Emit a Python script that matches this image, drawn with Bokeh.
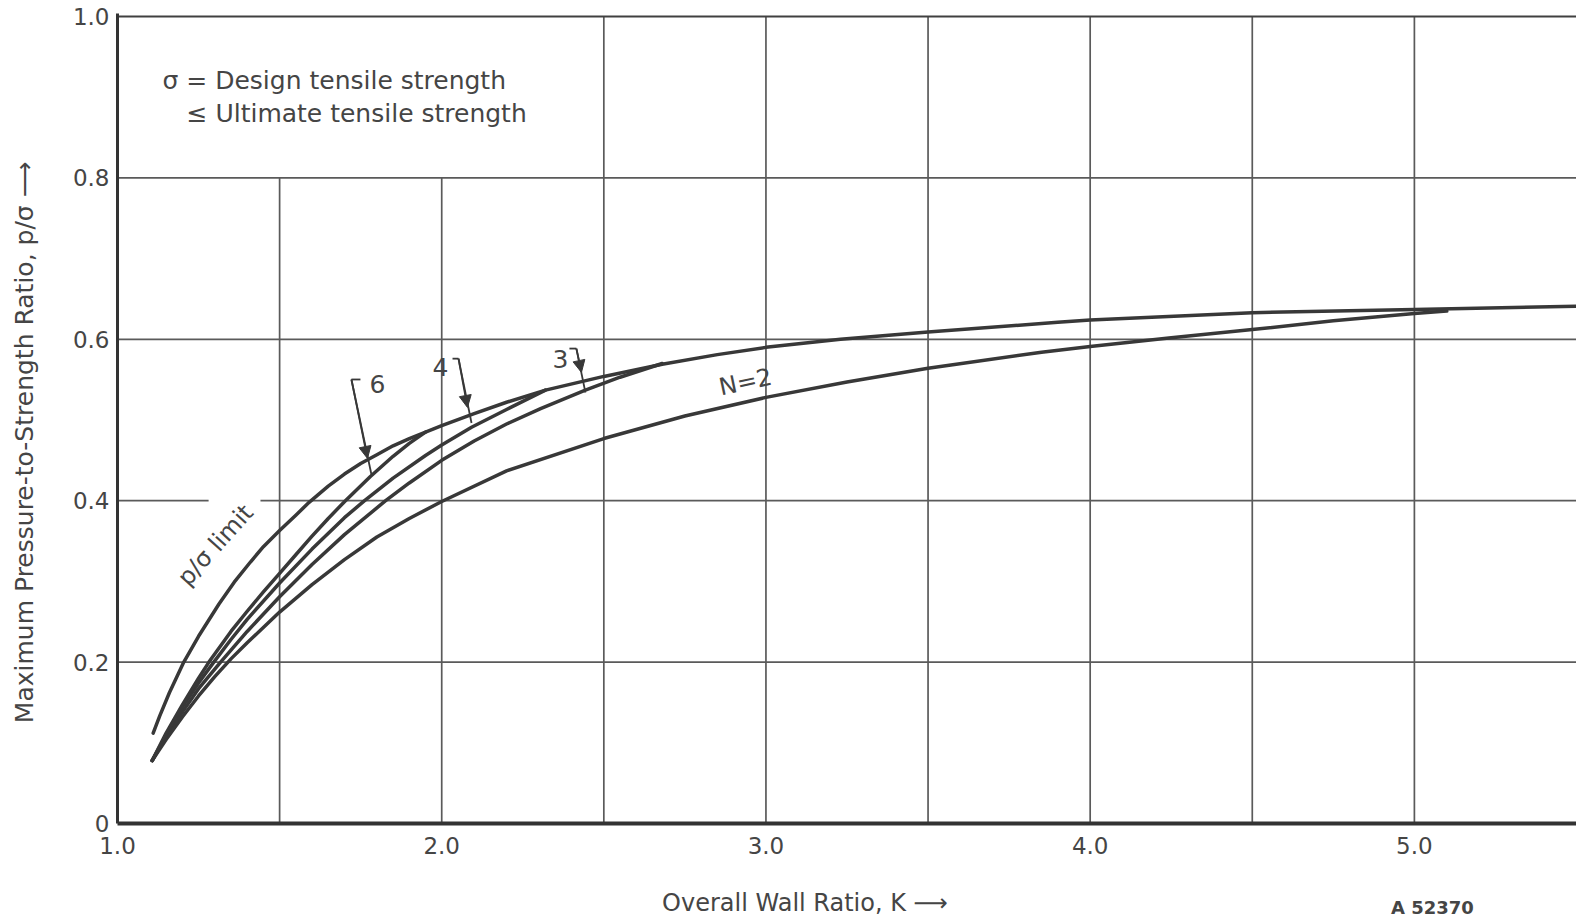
from bokeh.plotting import figure
from bokeh.models import Range1d, FixedTicker, Label, Arrow, NormalHead, LinearAxis
from bokeh.embed import file_html
from bokeh.resources import INLINE
import math

# ---------------- data ----------------
limit_k = [1.11, 1.13, 1.16, 1.2045, 1.25, 1.313, 1.36, 1.41, 1.45, 1.5, 1.55, 1.591,
           1.65, 1.7, 1.75, 1.8, 1.85, 1.9, 1.95, 2.0, 2.1, 2.2, 2.32, 2.5, 2.68, 2.85,
           3.0, 3.23, 3.5, 3.9, 4.0, 4.5, 5.0, 5.5]
limit_p = [0.112, 0.133, 0.162, 0.200, 0.232, 0.272, 0.299, 0.324, 0.343, 0.363, 0.382, 0.398,
           0.418, 0.433, 0.446, 0.457, 0.468, 0.477, 0.485, 0.493, 0.508, 0.522, 0.537, 0.554,
           0.569, 0.581, 0.590, 0.600, 0.609, 0.621, 0.624, 0.633, 0.637, 0.641]

n6_k = [1.107, 1.15, 1.2, 1.25, 1.282, 1.35, 1.4, 1.45, 1.5, 1.55, 1.6, 1.65, 1.703,
        1.78, 1.85, 1.9, 1.95]
n6_p = [0.078, 0.112, 0.147, 0.180, 0.200, 0.238, 0.263, 0.287, 0.310, 0.333, 0.356,
        0.378, 0.400, 0.430, 0.455, 0.471, 0.485]

n4_k = [1.107, 1.15, 1.2, 1.25, 1.297, 1.35, 1.4, 1.5, 1.6, 1.7, 1.762, 1.85, 1.95,
        2.0, 2.092, 2.2, 2.32]
n4_p = [0.078, 0.110, 0.144, 0.174, 0.200, 0.228, 0.253, 0.298, 0.340, 0.379, 0.400,
        0.428, 0.456, 0.469, 0.491, 0.513, 0.537]

n3_k = [1.107, 1.15, 1.2, 1.25, 1.318, 1.4, 1.5, 1.6, 1.7, 1.827, 1.9, 2.0, 2.1, 2.2,
        2.305, 2.443, 2.55, 2.68]
n3_p = [0.078, 0.108, 0.138, 0.167, 0.200, 0.238, 0.281, 0.321, 0.358, 0.400, 0.422,
        0.450, 0.474, 0.495, 0.514, 0.537, 0.553, 0.570]

n2_k = [1.107, 1.15, 1.2, 1.25, 1.3, 1.35, 1.4, 1.5, 1.6, 1.7, 1.8, 1.9, 2.0, 2.2, 2.5,
        2.75, 3.0, 3.25, 3.5, 3.85, 4.0, 4.25, 4.5, 4.75, 5.0, 5.1]
n2_p = [0.078, 0.104, 0.132, 0.158, 0.182, 0.204, 0.224, 0.262, 0.296, 0.327, 0.355,
        0.378, 0.399, 0.437, 0.477, 0.505, 0.528, 0.547, 0.564, 0.584, 0.591, 0.602,
        0.612, 0.623, 0.632, 0.635]

x_ticks = [1, 2, 3, 4, 5]
x_tick_labels = ["1.0", "2.0", "3.0", "4.0", "5.0"]
y_ticks = [0, 0.2, 0.4, 0.6, 0.8, 1.0]
y_tick_labels = ["0", "0.2", "0.4", "0.6", "0.8", "1.0"]
grid_k = [1.5, 2.0, 2.5, 3.0, 3.5, 4.0, 4.5, 5.0]
grid_p = [0.2, 0.4, 0.6, 0.8]

x_title = "Overall Wall Ratio, K ⟶"
y_title = "Maximum Pressure-to-Strength Ratio, p/σ ⟶"
note_lines = ["σ = Design tensile strength", "≤ Ultimate tensile strength"]
drawing_code = "A 52370"

# ---------------- layout / style ----------------
X0, X1 = 1.0, 5.5
Y0, Y1 = 0.0, 1.0037
NOTE_BOX_K, NOTE_BOX_P = 2.5, 0.8       # note area: no grid above 0.8 left of 2.5
LABEL_GAP = (0.4, 1.281, 1.441)          # gridline gap behind "p/σ limit"
CODE_K = 5.0555                          # horizontal position of drawing code
NBSP = "\u00a0"
INK = "#383838"
GRID = "#5a5a5a"
TXT = "#454545"
FONT = "DejaVu Sans"

p = figure(width=1576, height=923, x_range=Range1d(X0, X1), y_range=Range1d(Y0, Y1),
           output_backend="svg", toolbar_location=None,
           min_border_left=117, min_border_right=0, min_border_top=13, min_border_bottom=100)
p.outline_line_color = None
p.xgrid.visible = False
p.ygrid.visible = False
p.background_fill_color = "white"
p.border_fill_color = "white"

for ax, ticks, labels, lw, so in ((p.xaxis[0], x_ticks, x_tick_labels, 4, 13),
                                  (p.yaxis[0], y_ticks, y_tick_labels, 3, 8)):
    ax.ticker = FixedTicker(ticks=ticks)
    ax.major_label_overrides = {t: l for t, l in zip(ticks, labels)}
    ax.axis_line_width = lw
    ax.axis_line_color = "#333333"
    ax.major_tick_line_color = None
    ax.minor_tick_line_color = None
    ax.major_tick_out = 0
    ax.minor_tick_out = 0
    ax.major_tick_in = 0
    ax.minor_tick_in = 0
    ax.major_label_text_font = FONT
    ax.major_label_text_font_size = "23px"
    ax.major_label_text_color = TXT
    ax.major_label_standoff = so
    ax.axis_label_text_font = FONT
    ax.axis_label_text_font_style = "normal"
    ax.axis_label_text_color = TXT

p.xaxis[0].axis_label = x_title + NBSP * 11
p.xaxis[0].axis_label_text_font_size = "24px"
p.xaxis[0].axis_label_standoff = 32
p.yaxis[0].axis_label = y_title + NBSP * 6
p.yaxis[0].axis_label_text_font_size = "25px"
p.yaxis[0].axis_label_standoff = 31

code_axis = LinearAxis(ticker=FixedTicker(ticks=[CODE_K]),
                       major_label_overrides={CODE_K: drawing_code},
                       axis_line_color=None, major_tick_line_color=None,
                       minor_tick_line_color=None, major_tick_out=0, minor_tick_out=0,
                       major_tick_in=0, minor_tick_in=0, major_label_standoff=-23,
                       major_label_text_font=FONT, major_label_text_font_size="18px",
                       major_label_text_font_style="bold", major_label_text_color=TXT)
p.add_layout(code_axis, "below")

# grid lines
vx0, vy0, vx1, vy1 = [], [], [], []
for k in grid_k:
    vx0.append(k); vx1.append(k); vy0.append(0.0)
    vy1.append(NOTE_BOX_P if k < NOTE_BOX_K else 1.0)
for g in grid_p:
    if g == LABEL_GAP[0]:
        vx0 += [1.0, LABEL_GAP[2]]; vx1 += [LABEL_GAP[1], 5.6]
        vy0 += [g, g]; vy1 += [g, g]
    else:
        vx0.append(1.0); vx1.append(5.6); vy0.append(g); vy1.append(g)
p.segment(vx0, vy0, vx1, vy1, line_color=GRID, line_width=1.7)
# top border
p.segment([1.0], [1.0], [5.6], [1.0], line_color="#404040", line_width=2.2)

# curves
for ks, ps in ((n2_k, n2_p), (n3_k, n3_p), (n4_k, n4_p), (n6_k, n6_p), (limit_k, limit_p)):
    p.line(ks, ps, line_color=INK, line_width=3.5, line_cap="round", line_join="round")

def lab(x, y, text, size="22px", angle=0.0, align="center", baseline="middle"):
    p.add_layout(Label(x=x, y=y, text=text, text_font=FONT, text_font_size=size,
                       text_color=TXT, angle=angle, text_align=align,
                       text_baseline=baseline))

# note
lab(1.1388, 0.921, note_lines[0], size="25px", align="left", baseline="alphabetic")
lab(1.2128, 0.880, note_lines[1], size="25px", align="left", baseline="alphabetic")

# curve labels
lab(1.302, 0.345, "p/σ limit", size="24px", angle=math.radians(48))
lab(2.937, 0.547, "N=2", size="24px", angle=math.radians(12))
lab(1.802, 0.545, "6", size="25px")
lab(1.996, 0.566, "4", size="25px")
lab(2.366, 0.576, "3", size="25px")

# leaders: (tick start, top of line, arrow tip, line end)
leaders = [
    ((1.7493, 0.5502), (1.7215, 0.5502), (1.771, 0.4524), (1.7832, 0.4325)),
    ((2.0333, 0.5760), (2.0518, 0.5760), (2.0794, 0.5156), (2.0919, 0.4963)),
    ((2.3939, 0.5885), (2.4154, 0.5885), (2.431, 0.559), (2.4432, 0.5340)),
]
for a, b, tip, end in leaders:
    p.segment([a[0], b[0]], [a[1], b[1]], [b[0], end[0]], [b[1], end[1]],
              line_color=INK, line_width=1.8)
    p.add_layout(Arrow(end=NormalHead(size=12, fill_color=INK, line_color=INK, line_width=1),
                       x_start=b[0], y_start=b[1], x_end=tip[0], y_end=tip[1],
                       line_color=INK, line_width=1.8))

open("out.html", "w").write(file_html(p, INLINE))
